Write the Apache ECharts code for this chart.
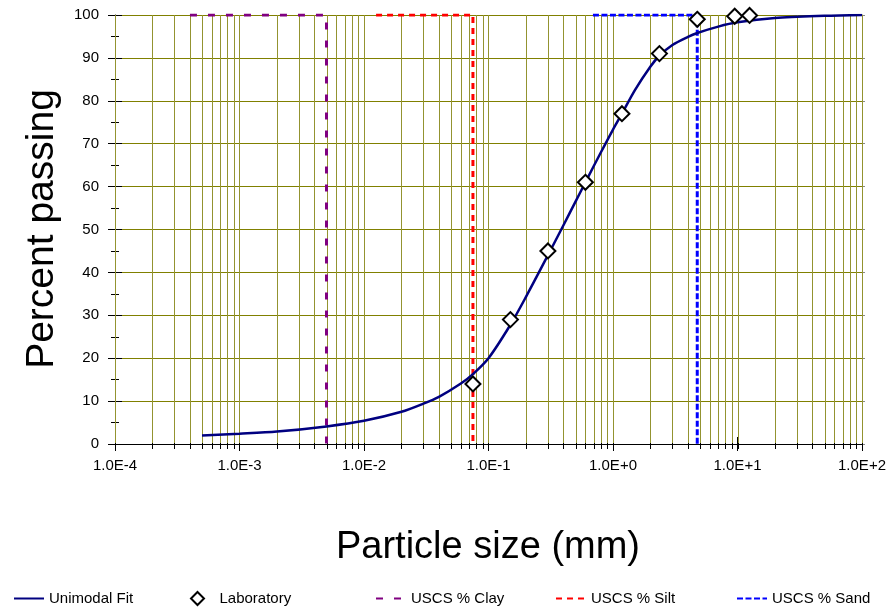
<!DOCTYPE html>
<html><head><meta charset="utf-8">
<script src="https://cdn.jsdelivr.net/npm/echarts@6/dist/echarts.min.js"></script>
<style>html,body{margin:0;padding:0;background:#fff}#c{width:890px;height:610px}</style>
</head><body><div id="c"></div>
<script>
// Unimodal fit curve
const fitSize = [0.0005,0.001,0.002,0.005,0.01,0.02,0.03,0.04,0.06,0.075,0.1,0.15,0.2,0.3,0.4,0.5,0.6,0.8,1.0,1.18,1.5,2.0,2.36,3.0,4.0,4.75,7,10,20,50,100];
const fitPass = [2.0,2.4,2.9,4.1,5.4,7.5,9.4,11.0,14.1,16.3,20.0,27.8,34.3,44.0,51.0,56.5,61.0,68.0,73.3,77.0,82.5,88.0,90.5,93.0,94.9,95.8,97.3,98.3,99.3,99.8,100];
// Laboratory points
const labSize = [0.075,0.15,0.3,0.6,1.18,2.36,4.75,9.5,12.5];
const labPass = [14,29,45,61,77,91,99,99.7,99.9];
// USCS boundaries
const claySize = [0.0004,0.005,0.005];
const clayPass = [100,100,0];
const siltSize = [0.0125,0.075,0.075];
const siltPass = [100,100,0];
const sandSize = [0.69,4.75,4.75];
const sandPass = [100,100,0];
// tick labels
const xTickLabels = ['1.0E-4','1.0E-3','1.0E-2','1.0E-1','1.0E+0','1.0E+1','1.0E+2'];
const yMin = 0, yMax = 100, yStep = 10;

const FONT = 'Liberation Sans, Arial, sans-serif';
const pairs = (xs, ys) => xs.map((x, i) => [x, ys[i]]);

// log grid line positions (axis decoration)
const gridVals = [];
for (let e = -4; e <= 1; e++) for (let m = 1; m <= 9; m++) gridVals.push(m * Math.pow(10, e));
gridVals.push(100);

const chart = echarts.init(document.getElementById('c'), null, {renderer: 'canvas'});
const logAxisBase = {type: 'log', logBase: 10, min: 1e-4, max: 100, gridIndex: 0};
const legText = {color: '#000', fontSize: 15, fontFamily: FONT};
chart.setOption({
  animation: false,
  backgroundColor: '#fff',
  grid: {left: 115, right: 28, top: 15, bottom: 166, containLabel: false},
  xAxis: [
    Object.assign({}, logAxisBase, {
      axisLine: {show: true, lineStyle: {color: '#000', width: 1}},
      axisTick: {show: true, inside: false, length: 7, lineStyle: {color: '#000'}},
      axisLabel: {show: true, margin: 14, color: '#000', fontSize: 15, fontFamily: FONT,
        formatter: v => xTickLabels[Math.round(Math.log10(v)) + 4]},
      splitLine: {show: false}, minorTick: {show: false}
    }),
    Object.assign({}, logAxisBase, {
      position: 'bottom', offset: 2,
      axisLine: {show: true, lineStyle: {color: '#000', width: 1}},
      axisTick: {show: true, inside: true, length: 7, lineStyle: {color: '#000'}},
      axisLabel: {show: false}, splitLine: {show: false}
    })
  ],
  yAxis: [
    {type: 'value', min: yMin, max: yMax, interval: yStep,
      axisLine: {show: true, lineStyle: {color: '#000'}},
      axisTick: {show: true, inside: false, length: 7, lineStyle: {color: '#000'}},
      minorTick: {show: true, splitNumber: 2, length: 4, lineStyle: {color: '#000'}},
      axisLabel: {margin: 16, color: '#000', fontSize: 15, fontFamily: FONT},
      splitLine: {show: true, lineStyle: {color: '#808000', width: 1}}
    },
    {type: 'value', min: yMin, max: yMax, interval: yStep, position: 'left',
      axisLine: {show: false},
      axisTick: {show: true, inside: true, length: 7, lineStyle: {color: '#000'}},
      minorTick: {show: true, splitNumber: 2, length: 4, lineStyle: {color: '#000'}},
      axisLabel: {show: false}, splitLine: {show: false}
    },
    {type: 'value', min: yMin, max: yMax, interval: yStep, position: 'right',
      axisLine: {show: true, lineStyle: {color: '#666'}},
      axisTick: {show: true, inside: false, length: 3, lineStyle: {color: '#888'}},
      axisLabel: {show: false}, splitLine: {show: false}
    }
  ],
  legend: [
    {data: ['Unimodal Fit'], left: 8, top: 586, itemWidth: 30, itemHeight: 14,
      itemStyle: {opacity: 0}, textStyle: legText},
    {data: [{name: 'Laboratory', icon: 'path://M1,0 L2,1 L1,2 L0,1 Z'}], left: 185, top: 586, itemWidth: 34, itemHeight: 13,
      textStyle: legText},
    {data: ['USCS % Clay'], left: 370, top: 586, itemWidth: 30, itemHeight: 14,
      itemStyle: {opacity: 0}, textStyle: legText},
    {data: ['USCS % Silt'], left: 550, top: 586, itemWidth: 30, itemHeight: 14,
      itemStyle: {opacity: 0}, textStyle: legText},
    {data: ['USCS % Sand'], left: 731, top: 586, itemWidth: 30, itemHeight: 14,
      itemStyle: {opacity: 0}, textStyle: legText}
  ],
  graphic: [
    {type: 'text', x: 488, y: 548, style: {text: 'Particle size (mm)', x: 0, y: 0,
      textAlign: 'center', textVerticalAlign: 'middle', font: '38px ' + FONT, fill: '#000'}},
    {type: 'text', x: 42, y: 229, rotation: Math.PI / 2, style: {text: 'Percent passing', x: 0, y: 0,
      textAlign: 'center', textVerticalAlign: 'middle', font: '39px ' + FONT, fill: '#000'}}
  ],
  series: [
    {type: 'custom', name: 'grid', xAxisIndex: 0, yAxisIndex: 0, z: 1, silent: true, clip: false,
      data: gridVals.map(v => [v, 0]),
      encode: {x: 0, y: 1},
      renderItem: (params, api) => {
        const v = api.value(0);
        const b = api.coord([v, yMin]);
        const t = api.coord([v, yMax]);
        const x = Math.round(b[0]) + 0.5;
        return {type: 'group', children: [
          {type: 'line', shape: {x1: x, y1: t[1], x2: x, y2: b[1]}, style: {stroke: '#939330', lineWidth: 1}},
          {type: 'line', shape: {x1: x, y1: b[1] - 1, x2: x, y2: b[1] + 5}, style: {stroke: '#000', lineWidth: 1}}
        ]};
      }
    },
    {type: 'line', name: 'Unimodal Fit', data: pairs(fitSize, fitPass), symbol: 'none', smooth: 0.3,
      lineStyle: {color: '#000080', width: 2.5}, itemStyle: {color: '#000080'}, z: 4},
    {type: 'scatter', name: 'Laboratory', data: pairs(labSize, labPass), symbol: 'diamond', symbolSize: 15,
      itemStyle: {color: '#fff', borderColor: '#000', borderWidth: 2, opacity: 1}, z: 5},
    {type: 'line', name: 'USCS % Clay', data: pairs(claySize, clayPass), symbol: 'none',
      lineStyle: {color: '#800080', width: 3, type: [7, 11]}, itemStyle: {color: '#800080'}, z: 3},
    {type: 'line', name: 'USCS % Silt', data: pairs(siltSize, siltPass), symbol: 'none',
      lineStyle: {color: '#ff0000', width: 3, type: [6, 5]}, itemStyle: {color: '#ff0000'}, z: 3},
    {type: 'line', name: 'USCS % Sand', data: pairs(sandSize, sandPass), symbol: 'none',
      lineStyle: {color: '#0000ff', width: 3, type: [6, 2.5]}, itemStyle: {color: '#0000ff'}, z: 3}
  ]
});
</script></body></html>
